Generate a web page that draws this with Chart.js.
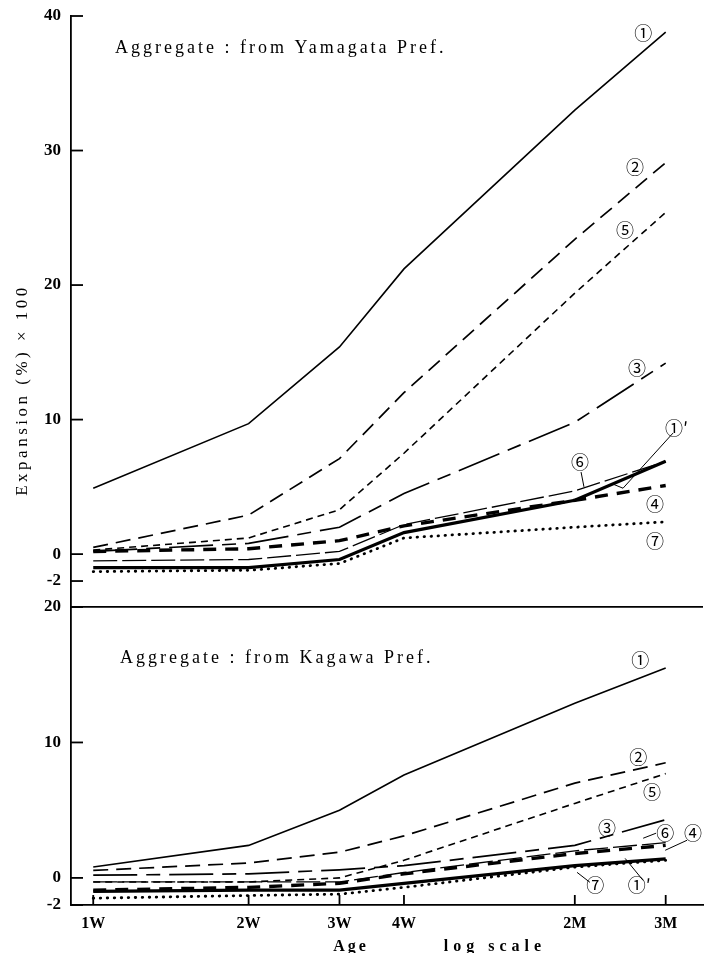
<!DOCTYPE html>
<html>
<head>
<meta charset="utf-8">
<script src="https://cdn.jsdelivr.net/npm/chart.js@4.4.1/dist/chart.umd.min.js"></script>
<style>
  html, body { margin: 0; padding: 0; background: #fff; }
  #wrap { position: relative; width: 712px; height: 953px; }
  canvas { position: absolute; left: 0; }
  #top { top: 0; }
  #bottom { top: 590px; }
</style>
</head>
<body>
<div id="wrap">
  <canvas id="bottom" width="712" height="363"></canvas>
  <canvas id="top" width="712" height="620"></canvas>
</div>
<script>
// age (days) on a log scale
const ageDays = [7, 14, 21, 28, 60, 90];
const ageLabels = ['1W', '2W', '3W', '4W', '2M', '3M'];
const seriesNames = ['①', '①′', '②', '③', '④', '⑤', '⑥', '⑦'];

// Aggregate from Yamagata Pref.  expansion (%) x 100
const yama1  = [4.9, 9.7, 15.4, 21.2, 33.0, 38.8];
const yama1p = [-1.0, -1.0, -0.4, 1.6, 4.0, 6.9];
const yama2  = [0.5, 2.9, 7.1, 12.0, 23.4, 29.1];
const yama3  = [0.2, 0.8, 2.0, 4.5, 9.8, 14.2];
const yama4  = [0.2, 0.4, 1.0, 2.1, 4.0, 5.1];
const yama5  = [0.3, 1.2, 3.3, 7.5, 19.4, 25.4];
const yama6  = [-0.5, -0.4, 0.2, 2.2, 4.7, 6.9];
const yama7  = [-1.3, -1.2, -0.7, 1.2, 2.0, 2.4];

// Aggregate from Kagawa Pref.
const kaga1  = [0.8, 2.4, 5.0, 7.6, 12.9, 15.5];
const kaga1p = [-1.0, -0.9, -0.9, -0.4, 0.9, 1.4];
const kaga2  = [0.55, 1.1, 1.9, 3.1, 7.0, 8.5];
const kaga3  = [0.2, 0.3, 0.6, 0.9, 2.4, 4.3];
const kaga4  = [-0.9, -0.7, -0.4, 0.3, 1.8, 2.4];
const kaga5  = [-0.3, -0.3, 0.0, 1.3, 5.5, 7.7];
const kaga6  = [-0.3, -0.3, -0.3, 0.4, 2.0, 2.6];
const kaga7  = [-1.5, -1.3, -1.2, -0.7, 0.8, 1.3];

const yTicksTop = [-2, 0, 10, 20, 30, 40];
const yTicksBottom = [-2, 0, 10, 20];

// line look for each numbered aggregate
const lineStyle = {
  '①':  { width: 1.6, dash: [] },
  '①′': { width: 3.2, dash: [] },
  '②':  { width: 1.7, dash: [15, 8] },
  '③':  { width: 1.7, dash: [44, 9, 14, 9] },
  '④':  { width: 3.4, dash: [13, 9] },
  '⑤':  { width: 1.6, dash: [7, 5] },
  '⑥':  { width: 1.3, dash: [24, 5] },
  '⑦':  { width: 2.8, dash: [0.5, 6.5], cap: 'round' }
};

// circled labels and leader lines, given in data units (days, value)
const topLabels = [
  { t: '①', x: 81.4, y: 38.7 }, { t: '②', x: 78.5, y: 28.8 },
  { t: '⑤', x: 75.1, y: 24.1 }, { t: '③', x: 79.2, y: 13.8 },
  { t: '①′', x: 94.5, y: 9.4 }, { t: '⑥', x: 61.4, y: 6.8 },
  { t: '④', x: 85.8, y: 3.7 }, { t: '⑦', x: 85.8, y: 1.0 }
];
const topLeaders = [
  [[93.0, 9.0], [74.4, 4.9], [71.2, 5.2]],
  [[61.7, 6.1], [62.5, 5.0]]
];
const bottomLabels = [
  { t: '①', x: 80.3, y: 16.1 }, { t: '②', x: 79.6, y: 8.9 },
  { t: '⑤', x: 84.7, y: 6.3 }, { t: '③', x: 69.3, y: 3.7 },
  { t: '⑥', x: 89.8, y: 3.3 }, { t: '④', x: 101.7, y: 3.3 },
  { t: '⑦', x: 65.7, y: -0.56 }, { t: '①′', x: 80.0, y: -0.56 }
];
const bottomLeaders = [
  [[99.0, 2.78], [89.8, 2.04]],
  [[86.2, 3.30], [81.4, 2.93]],
  [[64.2, -0.33], [60.6, 0.41]],
  [[81.4, -0.19], [75.1, 1.44]]
];

const SERIF = '"Liberation Serif", "DejaVu Serif", serif';

const notesPlugin = {
  id: 'notes',
  afterDraw(chart, args, opts) {
    const ctx = chart.ctx;
    const x = chart.scales.x, y = chart.scales.y;
    ctx.save();
    ctx.strokeStyle = '#000';
    ctx.fillStyle = '#000';

    // inward tick marks
    ctx.lineWidth = 1.8;
    y.ticks.forEach(t => {
      const py = y.getPixelForValue(t.value);
      ctx.beginPath(); ctx.moveTo(x.left, py); ctx.lineTo(x.left + 12, py); ctx.stroke();
    });
    if (opts.xTicks) {
      x.ticks.forEach(t => {
        const px = x.getPixelForValue(t.value);
        ctx.beginPath(); ctx.moveTo(px, y.bottom); ctx.lineTo(px, y.bottom - 10); ctx.stroke();
      });
    }

    // leader lines
    ctx.lineWidth = 1;
    (opts.leaders || []).forEach(pts => {
      ctx.beginPath();
      pts.forEach((p, i) => {
        const px = x.getPixelForValue(p[0]), py = y.getPixelForValue(p[1]);
        if (i === 0) ctx.moveTo(px, py); else ctx.lineTo(px, py);
      });
      ctx.stroke();
    });

    // circled series numbers
    ctx.font = '18px "Noto Sans CJK JP", "DejaVu Sans", sans-serif';
    ctx.textAlign = 'center';
    ctx.textBaseline = 'middle';
    (opts.labels || []).forEach(l => {
      ctx.fillText(l.t, x.getPixelForValue(l.x), y.getPixelForValue(l.y));
    });

    // free text (titles, axis names)
    (opts.texts || []).forEach(t => {
      ctx.save();
      ctx.font = t.font;
      ctx.letterSpacing = t.spacing || '0px';
      ctx.textAlign = t.align || 'left';
      ctx.textBaseline = 'middle';
      ctx.translate(t.px, t.py);
      if (t.rotate) ctx.rotate(t.rotate);
      ctx.fillText(t.text, 0, 0);
      ctx.restore();
    });
    ctx.restore();
  }
};

function buildDatasets(arrays) {
  return arrays.map((vals, i) => {
    const name = seriesNames[i];
    const st = lineStyle[name];
    return {
      label: name,
      data: ageDays.map((d, j) => ({ x: d, y: vals[j] })),
      borderColor: '#000',
      borderWidth: st.width,
      borderDash: st.dash,
      borderCapStyle: st.cap || 'butt',
      pointRadius: 0,
      tension: 0,
      fill: false
    };
  });
}

function makeChart(canvasId, arrays, yMin, yMax, yTicks, pad, showX, notes) {
  return new Chart(document.getElementById(canvasId), {
    type: 'line',
    data: { datasets: buildDatasets(arrays) },
    plugins: [notesPlugin],
    options: {
      responsive: false,
      animation: false,
      devicePixelRatio: 1,
      events: [],
      layout: { padding: pad },
      plugins: { legend: { display: false }, tooltip: { enabled: false }, notes: notes },
      scales: {
        x: {
          type: 'logarithmic',
          display: showX,
          min: 6.339,
          max: 106.3,
          afterBuildTicks: s => { s.ticks = ageDays.map(v => ({ value: v })); },
          afterFit: s => {
            s.height = showX ? 48 : 0;
            s.paddingLeft = 0; s.paddingRight = 0;
          },
          ticks: {
            autoSkip: false, maxRotation: 0, padding: 9, color: '#000',
            font: { family: SERIF, size: 16, weight: 'bold' },
            callback: (v, i) => ageLabels[i]
          },
          grid: { drawOnChartArea: false, drawTicks: false },
          border: { display: true, color: '#000', width: 1.8 }
        },
        y: {
          type: 'linear',
          min: yMin,
          max: yMax,
          afterBuildTicks: s => { s.ticks = yTicks.map(v => ({ value: v })); },
          afterFit: s => {
            s.width = 71;
            s.paddingTop = 0; s.paddingBottom = 0;
          },
          ticks: {
            padding: 10, color: '#000',
            font: { family: SERIF, size: 17, weight: 'bold' },
            callback: v => String(v)
          },
          grid: {
            drawTicks: false,
            color: c => (c.tick && c.tick.value === 20 && yMax === 20) ? '#000' : 'rgba(0,0,0,0)',
            lineWidth: 1.8
          },
          border: { display: true, color: '#000', width: 1.8 }
        }
      }
    }
  });
}

makeChart('top',
  [yama1, yama1p, yama2, yama3, yama4, yama5, yama6, yama7],
  -3.93, 40, yTicksTop,
  { top: 16, right: 9, bottom: 13, left: 0 }, false,
  {
    xTicks: false,
    labels: topLabels,
    leaders: topLeaders,
    texts: [
      { text: 'Aggregate : from Yamagata Pref.', px: 115, py: 48, font: '18px ' + SERIF, spacing: '3px' },
      { text: 'Expansion (%) × 100', px: 23, py: 390, font: '17px ' + SERIF, spacing: '3.5px', align: 'center', rotate: -Math.PI / 2 }
    ]
  });

makeChart('bottom',
  [kaga1, kaga1p, kaga2, kaga3, kaga4, kaga5, kaga6, kaga7],
  -2, 20, yTicksBottom,
  { top: 17, right: 9, bottom: 0, left: 0 }, true,
  {
    xTicks: true,
    labels: bottomLabels,
    leaders: bottomLeaders,
    texts: [
      { text: 'Aggregate : from Kagawa Pref.', px: 120, py: 68, font: '18px ' + SERIF, spacing: '3px' },
      { text: 'Age', px: 351, py: 357, font: 'bold 16px ' + SERIF, spacing: '3px', align: 'center' },
      { text: 'log scale', px: 495, py: 357, font: 'bold 16px ' + SERIF, spacing: '5px', align: 'center' }
    ]
  });
</script>
</body>
</html>
